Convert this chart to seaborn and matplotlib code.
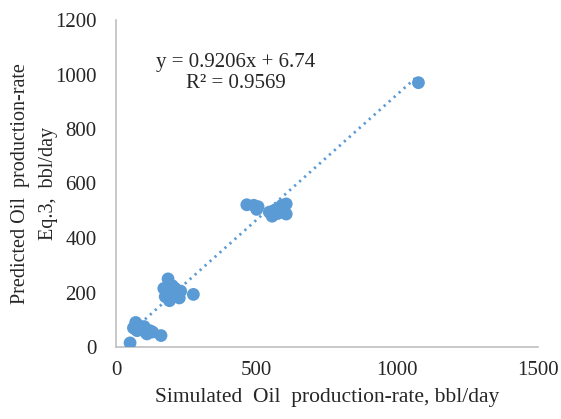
import matplotlib
matplotlib.use("Agg")
import matplotlib.pyplot as plt
import seaborn as sns
import numpy as np
import pandas as pd

# Data
simulated = [50, 62, 70, 78, 85, 95, 105, 110, 120, 130, 160, 75, 100,
             185, 170, 180, 195, 205, 215, 230, 225, 190, 175, 275, 200, 210,
             465, 490, 500, 505, 545, 555, 560, 570, 580, 590, 605, 605, 575,
             1075]
predicted = [15, 70, 90, 80, 65, 70, 55, 48, 60, 55, 42, 60, 75,
             250, 215, 200, 210, 185, 200, 205, 180, 170, 185, 193, 225, 215,
             522, 520, 505, 515, 495, 480, 500, 505, 510, 520, 525, 488, 490,
             970]
slope = 0.9206
intercept = 6.74
r_squared = 0.9569
x_ticks = [0, 500, 1000, 1500]
y_ticks = [0, 200, 400, 600, 800, 1000, 1200]

df = pd.DataFrame({"sim": simulated, "pred": predicted})

sns.set_theme(style="white")
plt.rcParams["font.family"] = ["Liberation Serif", "DejaVu Serif"]

fig = plt.figure(figsize=(5.61, 4.19), dpi=100)
ax = fig.add_axes([116/561, 1-347/419, (538-116)/561, (347-20)/419])

blue = "#5B9BD5"
sns.scatterplot(data=df, x="sim", y="pred", ax=ax, color=blue, s=85,
                edgecolor="none", zorder=3, legend=False)

xs = np.array([min(simulated), max(simulated)])
trend = pd.DataFrame({"x": xs, "y": slope * xs + intercept})
sns.lineplot(data=trend, x="x", y="y", ax=ax, color=blue, lw=2,
             linestyle=(0, (0.8, 1.6)), zorder=2)

ax.set_xlim(0, 1500)
ax.set_ylim(0, 1200)
ax.set_xticks(x_ticks)
ax.set_yticks(y_ticks)
txtc = "#262626"
ax.tick_params(axis="both", length=0, labelsize=15, colors=txtc)
ax.tick_params(axis="x", pad=10)
ax.tick_params(axis="y", pad=14)
for s in ["top", "right"]:
    ax.spines[s].set_visible(False)
for s in ["left", "bottom"]:
    ax.spines[s].set_color("#BFBFBF")
    ax.spines[s].set_linewidth(1.2)

ax.set_xlabel("Simulated  Oil  production-rate, bbl/day", fontsize=15.5,
              color=txtc, labelpad=6)
ax.set_ylabel("Predicted Oil  production-rate\nEq.3,  bbl/day", fontsize=14.5,
              color=txtc, labelpad=-2, linespacing=1.65)

fig.text(236/561, 1-73/419, f"y = {slope}x + {intercept}\nR² = {r_squared}",
         ha="center", va="center", fontsize=15, color=txtc, linespacing=1.15)

fig.savefig("out.png", dpi=100)
